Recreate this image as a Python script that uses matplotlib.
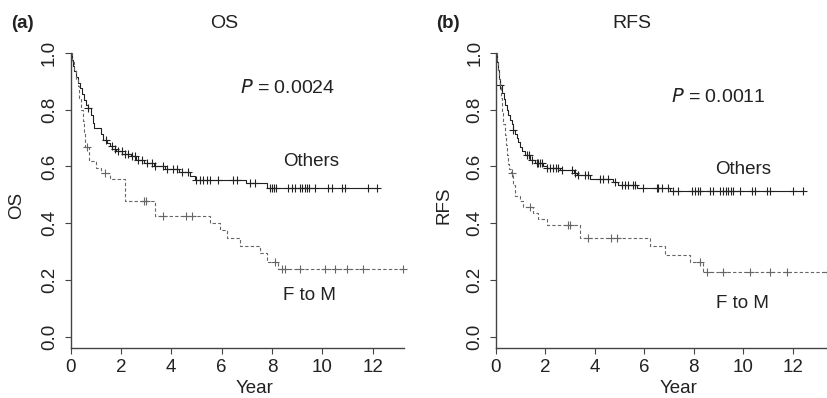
import numpy as np
import matplotlib
matplotlib.use('Agg')
import matplotlib.pyplot as plt

plt.rcParams['font.family'] = ['Liberation Sans', 'DejaVu Sans']

# ---- dados (tempo em anos, sobrevida apos o evento) ----
# (a) OS, grupo "Others"
os_oth_t = [0.05, 0.1, 0.15, 0.22, 0.3, 0.38, 0.46, 0.55, 0.63, 0.7, 0.8, 0.88, 0.95,
            1.2, 1.3, 1.45, 1.55, 1.65, 1.8, 2.05, 2.4, 2.6, 2.9, 3.3, 3.75, 4.3, 4.75,
            4.95, 6.95, 7.8]
os_oth_s = [0.975, 0.955, 0.935, 0.915, 0.895, 0.875, 0.855, 0.835, 0.818, 0.806, 0.78,
            0.755, 0.736, 0.715, 0.694, 0.683, 0.672, 0.662, 0.653, 0.645, 0.636, 0.624,
            0.612, 0.600, 0.590, 0.580, 0.567, 0.553, 0.541, 0.524]
os_oth_cens = [0.71, 1.41, 1.63, 1.75, 1.9, 2.03, 2.16, 2.3, 2.43, 2.56, 2.69, 2.83, 3.02,
               3.22, 3.35, 3.68, 3.82, 4.08, 4.21, 4.41, 4.67, 5.0, 5.14, 5.27, 5.4, 5.54,
               5.87, 6.46, 6.6, 7.12, 7.32, 7.92, 8.0, 8.09, 8.17, 8.64, 8.78, 8.91, 9.11,
               9.2, 9.3, 9.38, 9.46, 9.7, 10.23, 10.37, 10.76, 10.89, 11.82, 12.15]

# (a) OS, grupo "F to M"
os_ftm_t = [0.05, 0.12, 0.2, 0.28, 0.35, 0.42, 0.48, 0.52, 0.57, 0.75, 1.0, 1.2, 1.57,
            2.16, 3.35, 5.54, 5.93, 6.2, 6.73, 7.52, 7.79, 8.25]
os_ftm_s = [0.97, 0.94, 0.91, 0.885, 0.84, 0.80, 0.76, 0.72, 0.67, 0.618, 0.594, 0.577,
            0.556, 0.477, 0.426, 0.40, 0.377, 0.347, 0.318, 0.294, 0.265, 0.238]
os_ftm_cens = [0.64, 1.37, 2.93, 3.0, 3.68, 4.57, 4.81, 8.12, 8.38, 8.51, 9.1, 10.1, 10.5,
               10.96, 11.62, 13.2]

# (b) RFS, grupo "Others"
rfs_oth_t = [0.04, 0.08, 0.12, 0.17, 0.25, 0.32, 0.38, 0.45, 0.51, 0.58, 0.65, 0.71, 0.78,
             0.85, 0.91, 0.98, 1.05, 1.2, 1.4, 1.6, 1.9, 2.06, 2.6, 3.15, 3.27, 3.81, 4.75,
             4.95, 5.7, 7.04]
rfs_oth_s = [0.97, 0.94, 0.91, 0.888, 0.86, 0.838, 0.818, 0.80, 0.783, 0.765, 0.748, 0.73,
             0.716, 0.702, 0.688, 0.67, 0.653, 0.641, 0.624, 0.612, 0.600, 0.594, 0.588,
             0.577, 0.571, 0.556, 0.544, 0.535, 0.524, 0.512]
rfs_oth_cens = [0.17, 0.71, 1.25, 1.35, 1.45, 1.66, 1.72, 1.79, 1.86, 2.06, 2.18, 2.3, 2.42,
                2.53, 2.67, 3.07, 3.2, 3.34, 3.61, 3.74, 4.21, 4.35, 4.55, 4.82, 5.09, 5.22,
                5.36, 5.56, 5.64, 5.96, 6.5, 6.57, 6.71, 6.97, 7.18, 7.38, 7.92, 8.05, 8.19,
                8.25, 8.66, 8.79, 9.06, 9.2, 9.3, 9.4, 9.5, 9.6, 9.87, 10.34, 10.48, 10.95,
                11.08, 12.03, 12.4]

# (b) RFS, grupo "F to M"
rfs_ftm_t = [0.04, 0.08, 0.13, 0.17, 0.22, 0.27, 0.31, 0.36, 0.4, 0.44, 0.5, 0.55, 0.6,
             0.71, 0.78, 0.98, 1.12, 1.52, 1.72, 2.06, 3.4, 6.23, 6.84, 7.85, 8.36]
rfs_ftm_s = [0.97, 0.94, 0.91, 0.88, 0.84, 0.79, 0.75, 0.71, 0.675, 0.641, 0.61, 0.59,
             0.577, 0.535, 0.497, 0.477, 0.457, 0.436, 0.414, 0.394, 0.349, 0.32, 0.288,
             0.262, 0.229]
rfs_ftm_cens = [0.65, 1.39, 2.93, 3.0, 3.74, 4.65, 4.89, 8.25, 8.52, 9.2, 10.27, 11.08,
                11.76, 13.37]

W, H = 827., 398.


def km(ax, t, s, cens, color, dashed):
	'''
	Desenha uma curva de Kaplan-Meier em degraus com as marcas de censura
	'''
	T = np.concatenate([[0.], t, [max(cens)]])
	S = np.concatenate([[1.], s, [s[-1]]])
	ln, = ax.step(T, S, where='post', color=color, lw=0.8)
	if dashed:
		ln.set_dashes((3, 2))
	# sobrevida no instante de cada censura
	idx = np.searchsorted(T, cens, side='right') - 1
	ax.plot(cens, S[idx], ls='none', marker='+', ms=6, mew=0.8, color=color,
			clip_on=False)


def painel(left_px, width_px, xmax, oth, ftm, ylab, ylab_x):
	bottom_px, top_px = 347.7, 53.
	ax = plt.gcf().add_axes([left_px / W, 1 - bottom_px / H, width_px / W,
							 (bottom_px - top_px) / H])
	km(ax, *oth, color='#222222', dashed=False)
	km(ax, *ftm, color='#666666', dashed=True)

	ax.set_xlim(0, xmax)
	ax.set_ylim(-0.0388, 1.0)
	ax.set_xticks([0, 2, 4, 6, 8, 10, 12])
	ax.set_yticks([0.0, 0.2, 0.4, 0.6, 0.8, 1.0])
	ax.set_yticklabels(['0.0', '0.2', '0.4', '0.6', '0.8', '1.0'], rotation=90, va='center')
	ax.tick_params(direction='out', length=4, width=0.8, color='#444444',
				   labelsize=13.5, labelcolor='#222222')
	ax.tick_params(axis='y', pad=5)
	ax.tick_params(axis='x', pad=4)
	for sp in ['top', 'right']:
		ax.spines[sp].set_visible(False)
	for sp in ['left', 'bottom']:
		ax.spines[sp].set_color('#444444')
		ax.spines[sp].set_linewidth(1.0)

	ax.set_ylabel(ylab, fontsize=13.5, color='#222222')
	ax.yaxis.set_label_coords(ylab_x, 0.484)
	ax.set_xlabel('Year', fontsize=13.5, color='#222222')
	ax.xaxis.set_label_coords(0.552, -0.11)
	return ax


fig = plt.figure(figsize=(8.27, 3.98), dpi=100)

painel(70.5, 333.9, 13.25, (os_oth_t, os_oth_s, os_oth_cens),
	   (os_ftm_t, os_ftm_s, os_ftm_cens), 'OS', -0.136)
painel(495.7, 331.3, 13.39, (rfs_oth_t, rfs_oth_s, rfs_oth_cens),
	   (rfs_ftm_t, rfs_ftm_s, rfs_ftm_cens), 'RFS', -0.129)


def txt(x, y, s, **kw):
	# posicao em pixels da figura
	fig.text(x / W, 1 - y / H, s, color='#222222', va='center', **kw)


txt(11, 24, '(a)', fontsize=13.5, fontweight='bold')
txt(224, 24, 'OS', fontsize=14, ha='center')
txt(240, 88, '$\\mathit{P}$ = 0.0024', fontsize=14)
txt(283, 162, 'Others', fontsize=13.5)
txt(283, 295, 'F to M', fontsize=13.5)

txt(436, 24, '(b)', fontsize=13.5, fontweight='bold')
txt(632, 24, 'RFS', fontsize=14, ha='center')
txt(671, 97, '$\\mathit{P}$ = 0.0011', fontsize=14)
txt(715, 170, 'Others', fontsize=13.5)
txt(716, 303, 'F to M', fontsize=13.5)

plt.savefig('out.png', dpi=100)
